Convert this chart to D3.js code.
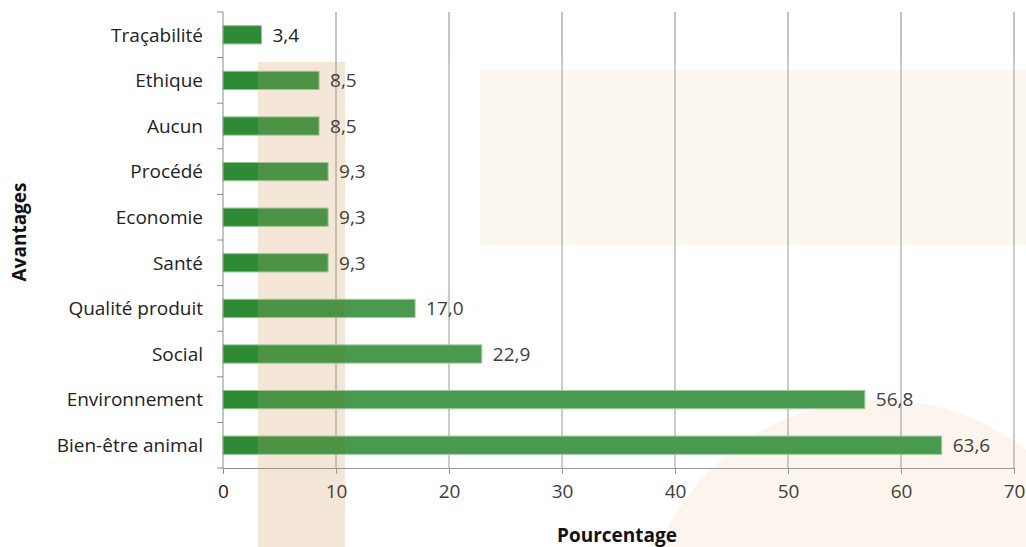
<!DOCTYPE html>
<html>
<head>
<meta charset="utf-8">
<script src="https://cdn.jsdelivr.net/npm/d3@7"></script>
<style>
  body { margin: 0; background: #fff; }
  text { font-family: "Open Sans", sans-serif; }
</style>
</head>
<body>
<div id="plot"></div>
<script>
// categories from top to bottom, and their values (%)
var categories = ["Traçabilité", "Ethique", "Aucun", "Procédé", "Economie", "Santé",
                  "Qualité produit", "Social", "Environnement", "Bien-être animal"];
var values = [3.4, 8.5, 8.5, 9.3, 9.3, 9.3, 17.0, 22.9, 56.8, 63.6];
var xTicks = [0, 10, 20, 30, 40, 50, 60, 70];

var data = categories.map(function(c, i) { return {name: c, value: values[i]}; });

var W = 1026, H = 547;
var margin = {top: 12, right: 12, bottom: 79, left: 223},
    width = W - margin.left - margin.right,
    height = H - margin.top - margin.bottom;

var svg = d3.select("#plot")
    .append("svg")
    .attr("width", W)
    .attr("height", H);

// faint watermark shapes behind everything
var wm = svg.append("g");
wm.append("rect").attr("x", 480).attr("y", 70).attr("width", 546).attr("height", 175)
    .attr("fill", "#fcf6ef");
wm.append("circle").attr("cx", 880).attr("cy", 640).attr("r", 240)
    .attr("fill", "#fcf4eb");
wm.append("rect").attr("x", 258).attr("y", 62).attr("width", 87).attr("height", H - 62)
    .attr("fill", "#f8ede2");

var g = svg.append("g")
    .attr("transform", "translate(" + margin.left + "," + margin.top + ")");

var x = d3.scaleLinear().domain([0, 70]).range([0, width]);
var y = d3.scaleBand().domain(categories).range([0, height]).paddingInner(0.6).paddingOuter(0.3);

// vertical gridlines
g.append("g")
    .selectAll("line")
    .data(xTicks.slice(1))
    .enter()
    .append("line")
    .attr("x1", function(d) { return x(d); })
    .attr("x2", function(d) { return x(d); })
    .attr("y1", 0)
    .attr("y2", height)
    .attr("stroke", "#8a8a8a")
    .attr("stroke-width", 1);

// bars
g.append("g")
    .selectAll("rect")
    .data(data)
    .enter()
    .append("rect")
    .attr("x", x(0))
    .attr("y", function(d) { return y(d.name); })
    .attr("width", function(d) { return x(d.value) - x(0); })
    .attr("height", y.bandwidth())
    .attr("fill", "#2f8a35")
    .attr("stroke", "#8fc48f")
    .attr("stroke-width", 1);

// watermark tint over the bars (logo sits on top in the source)
var tint = svg.append("g").style("pointer-events", "none");
tint.append("rect").attr("x", 345).attr("y", 62).attr("width", W - 345).attr("height", H - 62)
    .attr("fill", "#ffffff").attr("opacity", 0.13);
tint.append("rect").attr("x", 258).attr("y", 62).attr("width", 87).attr("height", H - 62)
    .attr("fill", "#e8c9a4").attr("opacity", 0.16);

// value labels
g.append("g")
    .selectAll("text")
    .data(data)
    .enter()
    .append("text")
    .attr("x", function(d) { return x(d.value) + 11; })
    .attr("y", function(d) { return y(d.name) + y.bandwidth() / 2; })
    .attr("dy", "0.36em")
    .style("font-size", "19px")
    .attr("fill", "#222")
    .text(function(d) { return d3.format(".1f")(d.value).replace(".", ","); });

// left axis: line + ticks at band edges
var edges = categories.map(function(c) { return y(c) - y.step() * y.paddingInner() / 2; });
edges.push(height);
g.append("line").attr("x1", 0).attr("x2", 0).attr("y1", 0).attr("y2", height)
    .attr("stroke", "#8a8a8a");
g.append("g").selectAll("line").data(edges).enter().append("line")
    .attr("x1", -6).attr("x2", 0)
    .attr("y1", function(d) { return d; }).attr("y2", function(d) { return d; })
    .attr("stroke", "#8a8a8a");
g.append("g").selectAll("text").data(categories).enter().append("text")
    .attr("x", -20)
    .attr("y", function(d) { return y(d) + y.bandwidth() / 2; })
    .attr("dy", "0.36em")
    .attr("text-anchor", "end")
    .style("font-size", "19px")
    .attr("fill", "#222")
    .text(function(d) { return d; });

// bottom axis
var xAxis = g.append("g")
    .attr("transform", "translate(0," + height + ")")
    .call(d3.axisBottom(x).tickValues(xTicks).tickSize(6).tickSizeOuter(0).tickPadding(11));
xAxis.select(".domain").attr("stroke", "#8a8a8a");
xAxis.selectAll(".tick line").attr("stroke", "#8a8a8a");
xAxis.selectAll(".tick text").style("font-size", "19px").attr("fill", "#222")
    .style("font-family", "'Open Sans', sans-serif");

// axis titles
svg.append("text")
    .attr("x", 617).attr("y", 542)
    .attr("text-anchor", "middle")
    .style("font-size", "19px").style("font-weight", "bold")
    .attr("fill", "#111")
    .text("Pourcentage");
svg.append("text")
    .attr("transform", "translate(26,232) rotate(-90)")
    .attr("text-anchor", "middle")
    .style("font-size", "19px").style("font-weight", "bold")
    .attr("fill", "#111")
    .text("Avantages");
</script>
</body>
</html>
